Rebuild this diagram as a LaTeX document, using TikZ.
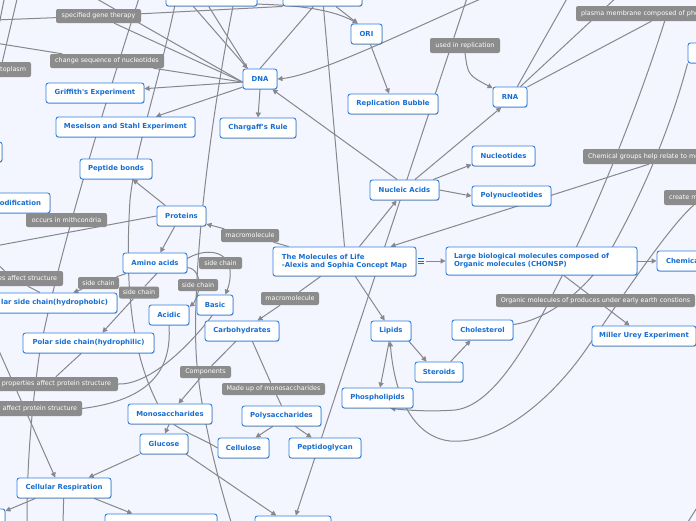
\documentclass[tikz,border=0pt]{standalone}
\usepackage{fontspec}
\newfontfamily\nf{DejaVu Sans}
\usetikzlibrary{arrows.meta,shadows}
\definecolor{bgc}{RGB}{243,246,254}
\definecolor{nblue}{RGB}{48,128,224}
\definecolor{tblue}{RGB}{22,110,210}
\definecolor{lgray}{RGB}{140,140,140}
\definecolor{lngray}{RGB}{135,135,140}
\pgfdeclarelayer{back}
\pgfsetlayers{back,main}
\begin{document}
\begin{tikzpicture}[x=1pt,y=-1pt,
 nd/.style={draw=nblue, line width=0.9pt, fill=white, rounded corners=2.5pt, text=tblue,
   font=\nf\bfseries\fontsize{6.9}{8.2}\selectfont, minimum height=20pt, inner sep=0pt,
   drop shadow={shadow xshift=0.5pt,shadow yshift=-0.8pt,opacity=0.25,fill=black}},
 lbl/.style={fill=lgray, rounded corners=2pt, text=white, font=\nf\fontsize{6.4}{7.4}\selectfont,
   minimum height=13pt, inner sep=0pt},
 ln/.style={draw=lngray, line width=1pt},
 ar/.style={ln, -{Triangle[length=5pt,width=5pt]}},
]
\useasboundingbox (0,0) rectangle (696,520);
\clip (0,0) rectangle (696,520);
% nodes
\node[nd, minimum width=91pt] (top1) at (211.5,-4) {};
\node[nd, minimum width=79pt] (top2) at (322.5,-4) {};
\node[nd, minimum width=31pt] (ori) at (366.5,34) {ORI};
\node[nd, minimum width=34pt] (dna) at (260,79) {DNA};
\node[nd, minimum width=76pt] (chargaff) at (258,128) {Chargaff's Rule};
\node[nd, minimum width=90pt] (bubble) at (393,104) {Replication Bubble};
\node[nd, minimum width=34pt] (rna) at (510,97) {RNA};
\node[nd, minimum width=63pt] (nucleotides) at (503.5,156) {Nucleotides};
\node[nd, minimum width=79pt] (polynuc) at (511.5,196) {Polynucleotides};
\node[nd, minimum width=69pt] (nucleic) at (404.5,190) {Nucleic Acids};
\node[nd, minimum width=143pt, minimum height=29pt, align=left] (main) at (344.5,261.5) {The Molecules of Life\\-Alexis and Sophia Concept Map};
\node[nd, minimum width=191pt, minimum height=28pt, align=left, text width=175pt] (large) at (541.5,261) {Large biological molecules composed of\\Organic molecules (CHONSP)};
\node[nd, minimum width=73pt, text width=55pt, align=left] (chem) at (693.5,261) {Chemical};
\node[nd, minimum width=52pt] (n14) at (714,53) {};
\node[nd, minimum width=104pt] (miller) at (644,336) {Miller Urey Experiment};
\node[nd, minimum width=61pt] (chol) at (482.5,330) {Cholesterol};
\node[nd, minimum width=48pt] (steroids) at (439,372) {Steroids};
\node[nd, minimum width=40pt] (lipids) at (391,331) {Lipids};
\node[nd, minimum width=71pt] (phospho) at (377.5,398) {Phospholipids};
\node[nd, minimum width=72pt] (peptido) at (325,448) {Peptidoglycan};
\node[nd, minimum width=79pt] (poly) at (281.5,416) {Polysaccharides};
\node[nd, minimum width=51pt] (cellulose) at (243.5,448) {Cellulose};
\node[nd, minimum width=76pt] (b23) at (293,526) {};
\node[nd, minimum width=48pt] (glucose) at (164,444) {Glucose};
\node[nd, minimum width=84pt] (mono) at (170,414) {Monosaccharides};
\node[nd, minimum width=94pt] (cellresp) at (64,488) {Cellular Respiration};
\node[nd, minimum width=112pt] (b27) at (161,524) {};
\node[nd, minimum width=55pt] (l28) at (-22.5,519) {};
\node[nd, minimum width=74pt] (carbo) at (242,331) {Carbohydrates};
\node[nd, minimum width=36pt] (basic) at (215,305) {Basic};
\node[nd, minimum width=40pt] (acidic) at (169,315) {Acidic};
\node[nd, minimum width=64pt] (amino) at (155,263) {Amino acids};
\node[nd, minimum width=49pt] (proteins) at (181.5,216) {Proteins};
\node[nd, minimum width=72pt] (peptide) at (116,169) {Peptide bonds};
\node[nd, minimum width=139pt] (meselson) at (125.5,127) {Meselson and Stahl Experiment};
\node[nd, minimum width=98pt] (griffith) at (95,93) {Griffith's Experiment};
\node[nd, minimum width=95pt, text width=77pt, align=right] (modif) at (2.5,203) {odification};
\node[nd, minimum width=42pt] (l38) at (-19,152) {};
\node[nd, minimum width=142pt, text width=124pt, align=right] (phobic) at (46,303) {lar side chain(hydrophobic)};
\node[nd, minimum width=131pt] (philic) at (88.5,343) {Polar side chain(hydrophilic)};
% labels
\node[lbl, minimum width=85pt, minimum height=14pt] (l1) at (98.5,16) {specified gene therapy};
\node[lbl, minimum width=114pt, minimum height=14pt] (l2) at (107,61) {change sequence of nucleotides};
\node[lbl, minimum width=61pt, minimum height=15pt, text width=51pt, align=right] (l3) at (0.5,69.5) {toplasm};
\node[lbl, minimum width=70pt, minimum height=15pt] (l4) at (465,45.5) {used in replication};
\node[lbl, minimum width=180pt, minimum height=15pt, text width=170pt, align=left] (l5) at (666,13.5) {plasma membrane composed of phospholipids};
\node[lbl, minimum width=180pt, minimum height=15pt, text width=170pt, align=left] (l6) at (673,156.5) {Chemical groups help relate to molecules};
\node[lbl, minimum width=80pt, minimum height=15pt, text width=70pt, align=left] (l7) at (704,197.5) {create molecules};
\node[lbl, minimum width=199pt] (l8) at (595.5,300.5) {Organic molecules of produces under early earth constions};
\node[lbl, minimum width=81pt, minimum height=14pt] (l9) at (66.5,220) {occurs in mithcondria};
\node[lbl, minimum width=58pt] (l10) at (250,235.5) {macromolecule};
\node[lbl, minimum width=58pt] (l11) at (290,298.5) {macromolecule};
\node[lbl, minimum width=43pt, minimum height=12pt] (l12) at (220.5,263) {side chain};
\node[lbl, minimum width=40pt, minimum height=12pt] (l13) at (198,285) {side chain};
\node[lbl, minimum width=41pt, minimum height=12pt] (l14) at (98.5,283) {side chain};
\node[lbl, minimum width=40pt, minimum height=12pt] (l15) at (139,292.5) {side chain};
\node[lbl, minimum width=100pt, minimum height=15pt, text width=88pt, align=right] (l16) at (13,278.5) {es affect structure};
\node[lbl, minimum width=140pt, minimum height=14pt, text width=126pt, align=right] (l17) at (48,384) {properties affect protein structure};
\node[lbl, minimum width=120pt, minimum height=15pt, text width=110pt, align=right] (l18) at (22,408.5) {affect protein structure};
\node[lbl, minimum width=51pt, minimum height=12pt] (l19) at (205.5,372) {Components};
\node[lbl, minimum width=103pt, minimum height=12pt] (l20) at (273.5,389) {Made up of monosaccharides};
\coordinate (menu) at (426,261);
\draw[tblue, line width=0.8pt] (418,258.5) -- (424,258.5) (418,261) -- (424,261) (418,263.5) -- (424,263.5);
% connectors
\begin{pgfonlayer}{back}
\fill[bgc] (-10,-10) rectangle (706,530);
\clip (0,0) rectangle (696,520);
% top-left
\draw[ln] (5,-5) -- (-3,35);
\draw[ln] (18,-5) -- (l3);
\draw[ln] (-5,20) -- (l1) -- (top2.south west);
\draw[ln] (l1) -- (dna.190);
\draw[ln] (90,-5) -- (dna.190);
\draw[ln] (-5,43) -- (l2) -- (dna.190);
\draw[ln] (top1.-105) -- (dna.140);
\draw[ar] (top1.-150) -- (dna.140);
\draw[ln] (top2) -- (dna.north);
\draw[ar] (490,-5) .. controls (430,20) and (320,75) .. (dna.east);
\draw[ar] (dna.190) -- (griffith.5);
\draw[ar] (dna.205) -- (meselson.19);
\draw[ar] (dna.south) -- (chargaff.north);
\draw[ar] (top1.-10) .. controls (290,5) and (330,8) .. (ori.130);
\draw[ar] (top2) -- (ori.130);
\draw[ln] (top2.east) -- (385,-5);
\draw[ar] (ori) -- (bubble);
\draw[ln] (top2) -- (main.north);
\draw[ar] (468,-5) -- (b23.75);
% nucleic acids
\draw[ar] (nucleic.125) -- (dna.-40);
\draw[ar] (nucleic.45) -- (rna.-130);
\draw[ar] (nucleic.20) -- (nucleotides.195);
\draw[ar] (nucleic.east) -- (polynuc.west);
\draw[ar] (main.45) -- (nucleic.-127);
\draw[ar] (main.165) -- (l10) -- (proteins.-18);
\draw[ar] (main.-148) -- (l11) -- (carbo.34);
\draw[ar] (main.-54) -- (lipids.121);
\draw[ar] (menu) -- (large.west);
\draw[ar] (large.east) -- (chem.west);
\draw[ar] (large.-33) -- (miller.144);
% RNA region
\draw[ar] (l4.south) .. controls (468,75) .. (rna.153);
\draw[ln] (rna.55) -- (569,-5);
\draw[ln] (rna.45) -- (619,-5);
\draw[ln] (rna.30) -- (l5);
\draw[ar] (l5.-100) .. controls (640,100) and (600,200) .. (570,260) .. controls (540,320) and (500,405) .. (455,410) .. controls (430,412) and (405,410) .. (phospho.-39);
\draw[ar] (l7.-143) .. controls (670,225) and (620,300) .. (587,348) .. controls (555,395) and (500,445) .. (450,441) .. controls (415,437) and (395,400) .. (lipids.-95);
\draw[ar] (l6) -- (main.18);
\draw[ln] (chol.10) .. controls (545,320) and (580,295) .. (605,260) .. controls (640,200) and (670,130) .. (n14.south west);
\draw[ln] (698,506) -- (686,525);
% proteins
\draw[ar] (proteins.147) -- (peptide.-32);
\draw[ar] (proteins.-123) -- (amino.63);
\draw[ln] (proteins.west) -- (-5,246);
\draw[ar] (amino.-160) -- (l14) -- (phobic.21);
\draw[ar] (amino.-80) -- (l15) -- (philic.37);
\draw[ar] (amino.8) .. controls (205,248) and (228,250) .. (230,270) .. controls (231,280) and (228,288) .. (basic.45);
\draw[ar] (amino.-8) .. controls (196,268) and (200,278) .. (199,287) .. controls (198,297) and (193,304) .. (acidic.22);
\draw[ln] (basic.-105) .. controls (190,345) and (150,385) .. (l17.east);
\draw[ln] (acidic.-90) .. controls (172,370) and (150,400) .. (l18.east);
\draw[ln] (philic.-125) -- (l17);
\draw[ln] (l17.west) -- (-10,372);
\draw[ln] (l18.west) -- (-10,400);
\draw[ln] (-5,262) -- (l16) -- (phobic.120);
\draw[ln] (140,-5) .. controls (100,120) and (60,250) .. (40,350) .. controls (30,420) and (27,470) .. (27,525);
\draw[ln] (top1.-26) .. controls (205,150) and (193,280) .. (196,350) .. controls (198,400) and (215,470) .. (232,525);
\draw[ln] (177,-5) .. controls (160,80) and (135,150) .. (130,200) .. controls (125,280) and (130,350) .. (mono.140);
% carbohydrates
\draw[ar] (carbo.-121) -- (l19) -- (mono.51);
\draw[ln] (carbo.-45) -- (l20) -- (poly.north);
\draw[ar] (poly.-130) -- (cellulose.41);
\draw[ar] (poly.-37) -- (peptido.142);
\draw[ar] (mono.-95) -- (glucose.85);
\draw[ln] (mono.-70) .. controls (190,435) and (205,440) .. (cellulose.west);
\draw[ar] (glucose.-157) -- (cellresp.23);
\draw[ar] (glucose.-25) -- (b23.148);
\draw[ar] (-12,326) -- (cellresp.130);
\draw[ar] (cellresp.-160) -- (l28.16);
\draw[ar] (cellresp.-19) -- (b27.160);
\draw[ln] (cellresp.-92) -- (63,525);
% lipids
\draw[ar] (lipids.-100) -- (phospho.76);
\draw[ar] (lipids.-30) -- (steroids.140);
\draw[ar] (steroids.42) -- (chol.-139);
\end{pgfonlayer}
\end{tikzpicture}
\end{document}
